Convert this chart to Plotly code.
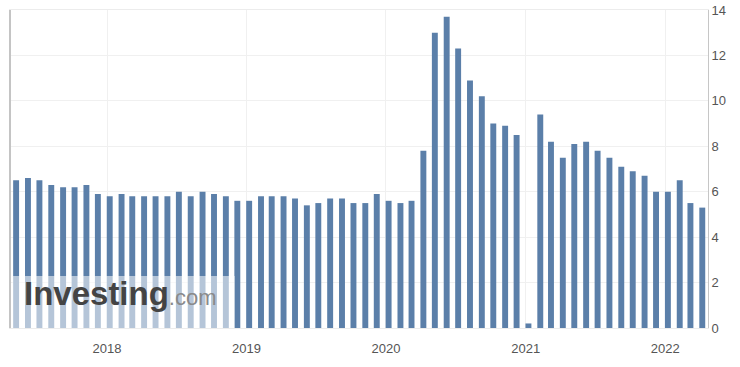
import plotly.graph_objects as go

# Release dates (monthly, May 2017 - Apr 2022)
months = [f"{2017 + (4 + i) // 12}-{(4 + i) % 12 + 1:02d}-08" for i in range(60)]

rates = [
    6.5, 6.6, 6.5, 6.3, 6.2, 6.2, 6.3, 5.9,            # 2017 May-Dec
    5.8, 5.9, 5.8, 5.8, 5.8, 5.8, 6.0, 5.8, 6.0, 5.9, 5.8, 5.6,  # 2018
    5.6, 5.8, 5.8, 5.8, 5.7, 5.4, 5.5, 5.7, 5.7, 5.5, 5.5, 5.9,  # 2019
    5.6, 5.5, 5.6, 7.8, 13.0, 13.7, 12.3, 10.9, 10.2, 9.0, 8.9, 8.5,  # 2020
    0.2, 9.4, 8.2, 7.5, 8.1, 8.2, 7.8, 7.5, 7.1, 6.9, 6.7, 6.0,  # 2021
    6.0, 6.5, 5.5, 5.3,                                 # 2022 Jan-Apr
]

y_ticks = [0, 2, 4, 6, 8, 10, 12, 14]

BAR = "#5b7fa9"
FONT = "Arial, Liberation Sans, sans-serif"

fig = go.Figure()
fig.add_trace(go.Bar(
    x=months, y=rates,
    marker=dict(color=BAR, line=dict(width=0)),
    width=15.5 * 86400000,
    hoverinfo="x+y",
))

fig.update_layout(
    width=740, height=367,
    margin=dict(l=10, r=32, t=10, b=39, autoexpand=False),
    paper_bgcolor="white", plot_bgcolor="white",
    showlegend=False,
    font=dict(family=FONT, size=13, color="#555555"),
    xaxis=dict(
        type="date",
        range=["2017-04-22", "2022-04-23"],
        tick0="2018-01-01", dtick="M12", tickformat="%Y",
        showgrid=True, gridcolor="#f0f0f0", gridwidth=1,
        ticks="outside", ticklen=8, tickcolor="rgba(0,0,0,0)",
        showline=True, linecolor="#ececec", linewidth=1, mirror=True,
        tickfont=dict(size=13, color="#555555"),
        zeroline=False, fixedrange=True, automargin=False,
    ),
    yaxis=dict(
        side="right",
        range=[0, 14],
        tickvals=y_ticks,
        showgrid=True, gridcolor="#f0f0f0", gridwidth=1,
        showline=True, linecolor="#c6c6c6", linewidth=1, mirror=True,
        ticks="", tickfont=dict(size=13, color="#555555"),
        zeroline=False, fixedrange=True, automargin=False,
    ),
    bargap=0.48,
)

# left border (slightly heavier)
fig.add_shape(type="line", xref="paper", yref="paper", x0=0, x1=0, y0=0, y1=1,
              line=dict(color="#c4c4c4", width=2))

# watermark panel
fig.add_shape(type="rect", xref="paper", yref="paper",
              x0=0.003, x1=0.322, y0=0, y1=0.1635,
              fillcolor="rgba(255,255,255,0.55)", line=dict(width=0), layer="above")
fig.add_annotation(xref="paper", yref="paper", x=0.017, y=0.045,
                   xanchor="left", yanchor="bottom", showarrow=False,
                   text="<b>Investing</b><span style='font-size:22px;color:#8a8a8a'>.com</span>",
                   font=dict(family=FONT, size=33, color="#444444"))

fig.write_html("out.html", config={"displayModeBar": False},
               post_script="document.body.style.margin='0';")
